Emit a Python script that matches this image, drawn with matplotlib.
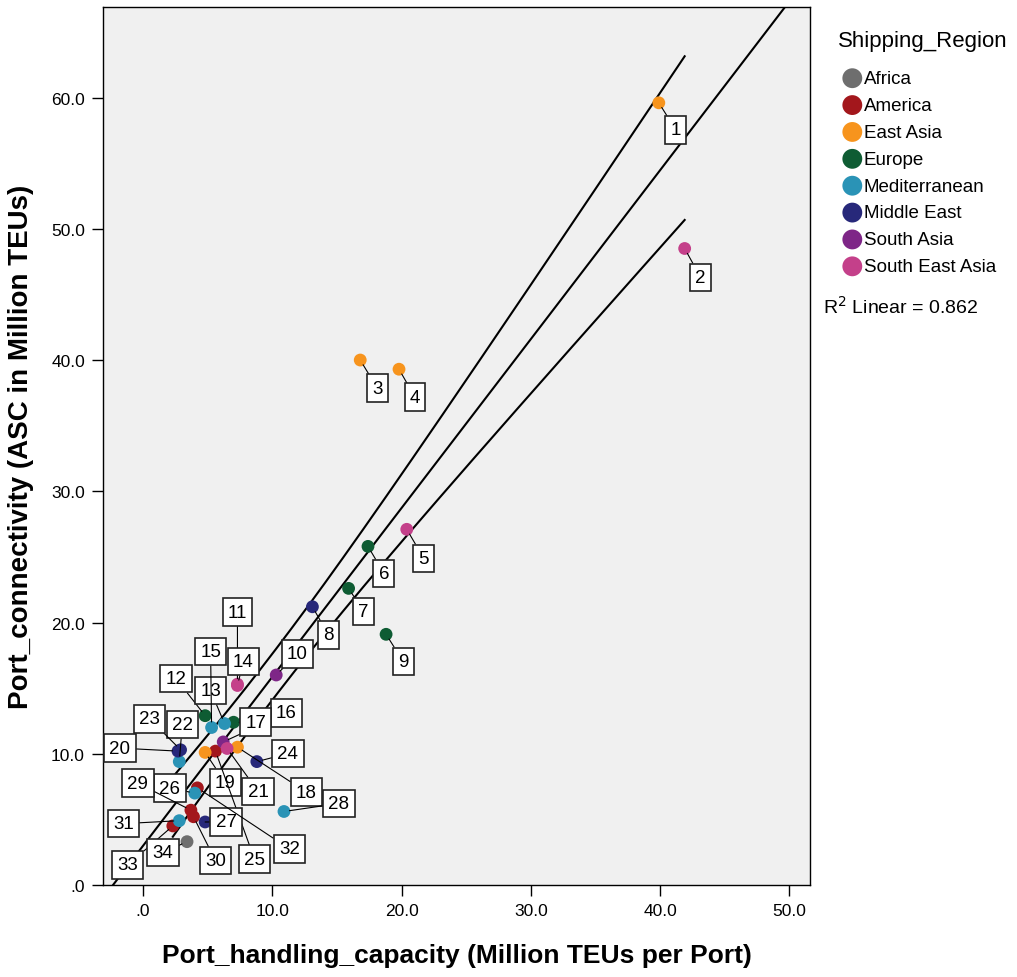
import matplotlib.pyplot as plt
import numpy as np

plt.rcParams['font.family'] = ['Liberation Sans', 'DejaVu Sans']

# port data: capacity (x), connectivity (y), region
port_id = list(range(1, 35))
capacity = [39.9, 41.9, 16.8, 19.8, 20.4, 17.4, 15.9, 13.1, 18.8, 10.3,
            7.3, 4.8, 6.3, 7.3, 5.3, 6.2, 7.0, 7.3, 4.8, 2.7,
            6.5, 2.8, 2.9, 8.8, 5.6, 4.0, 4.8, 10.9, 3.7, 3.9,
            2.8, 4.2, 2.3, 3.4]
connectivity = [59.6, 48.5, 40.0, 39.3, 27.1, 25.8, 22.6, 21.2, 19.1, 16.0,
                15.3, 12.9, 12.3, 15.2, 12.0, 10.9, 12.4, 10.5, 10.1, 10.2,
                10.4, 9.4, 10.3, 9.4, 10.2, 7.0, 4.8, 5.6, 5.7, 5.2,
                4.9, 7.4, 4.5, 3.3]
region = ['East Asia', 'South East Asia', 'East Asia', 'East Asia', 'South East Asia',
          'Europe', 'Europe', 'Middle East', 'Europe', 'South Asia',
          'South East Asia', 'Europe', 'Mediterranean', 'South East Asia', 'Mediterranean',
          'South Asia', 'Europe', 'East Asia', 'East Asia', 'Middle East',
          'South East Asia', 'Mediterranean', 'Middle East', 'Middle East', 'America',
          'Mediterranean', 'Middle East', 'Mediterranean', 'America', 'America',
          'Mediterranean', 'America', 'America', 'Africa']

regions = ['Africa', 'America', 'East Asia', 'Europe', 'Mediterranean',
           'Middle East', 'South Asia', 'South East Asia']
region_colors = ['#6e6e6e', '#a3171c', '#f7941d', '#0e5c33', '#2a93b6',
                 '#27287a', '#7e2687', '#c4408a']
R2_LINEAR = 0.862

# label box offsets (pixels) relative to each point
label_offset = {
    1: (17, -27), 2: (16, -29), 3: (17, -28), 4: (16, -28), 5: (17, -29),
    6: (16, -27), 7: (15, -23), 8: (16, -28), 9: (17, -27), 10: (21, 21),
    11: (0, 72), 12: (-29, 37), 13: (-14, 33), 14: (6, 24), 15: (-1, 76),
    16: (63, 29), 17: (22, 0), 18: (69, -45), 19: (20, -30), 20: (-58, 3),
    21: (31, -43), 22: (3, 37), 23: (-31, 31), 24: (31, 8), 25: (39, -108),
    26: (-25, 5), 27: (21, 0), 28: (55, 8), 29: (-53, 27), 30: (22, -44),
    31: (-56, -3), 32: (92, -61), 33: (-45, -39), 34: (-24, -11),
}

x = np.array(capacity)
y = np.array(connectivity)

fig = plt.figure(figsize=(10.17, 9.78), dpi=100)
ax = fig.add_axes([0.1013, 0.0941, 0.6952, 0.8977])
ax.set_facecolor('#f0f0f0')
ax.set_xlim(-3.1, 51.6)
ax.set_ylim(0, 66.9)

# linear fit with 95% mean confidence band
n = len(x)
slope, intercept = np.polyfit(x, y, 1)
resid = y - (slope * x + intercept)
s = np.sqrt(np.sum(resid ** 2) / (n - 2))
sxx = np.sum((x - x.mean()) ** 2)
t_crit = 2.037

xf = np.linspace(-3.1, 51.6, 200)
ax.plot(xf, slope * xf + intercept, color='black', lw=1.5, zorder=2)
xc = np.linspace(x.min(), x.max(), 200)
half = t_crit * s * np.sqrt(1 / n + (xc - x.mean()) ** 2 / sxx)
ax.plot(xc, slope * xc + intercept + half, color='black', lw=1.5, zorder=2)
ax.plot(xc, slope * xc + intercept - half, color='black', lw=1.5, zorder=2)

color_map = dict(zip(regions, region_colors))
for reg in regions:
    idx = [i for i, r in enumerate(region) if r == reg]
    ax.scatter(x[idx], y[idx], s=85, color=color_map[reg], edgecolors='none',
               label=reg, zorder=3)

for pid, px, py in zip(port_id, capacity, connectivity):
    ax.annotate(str(pid), xy=(px, py), xytext=label_offset[pid],
                textcoords='offset pixels', ha='center', va='center',
                fontsize=13.5, zorder=4,
                bbox=dict(boxstyle='square,pad=0.28', fc='white', ec='#222222', lw=1.2),
                arrowprops=dict(arrowstyle='-', color='black', lw=0.8,
                                shrinkA=0, shrinkB=4))

ticks = [0, 10, 20, 30, 40, 50]
ax.set_xticks(ticks)
ax.set_xticklabels([f'{v:.1f}'.lstrip('0') if v == 0 else f'{v:.1f}' for v in ticks])
yticks = [0, 10, 20, 30, 40, 50, 60]
ax.set_yticks(yticks)
ax.set_yticklabels([f'{v:.1f}'.lstrip('0') if v == 0 else f'{v:.1f}' for v in yticks])
ax.tick_params(direction='out', length=8, width=1, labelsize=12.5, pad=5)
for sp in ax.spines.values():
    sp.set_linewidth(1.0)

ax.set_xlabel('Port_handling_capacity (Million TEUs per Port)', fontsize=19,
              fontweight='bold', labelpad=18)
ax.set_ylabel('Port_connectivity (ASC in Million TEUs)', fontsize=20,
              fontweight='bold', labelpad=12)

fig.text(838 / 1017, 1 - 42 / 978, 'Shipping_Region', fontsize=16, va='center')
ax.legend(loc='upper left', bbox_to_anchor=(842 / 1017, 1 - 71 / 978),
          bbox_transform=fig.transFigure, frameon=False, fontsize=13.5,
          handletextpad=0.05, labelspacing=0.52, markerscale=1.55,
          borderaxespad=0, borderpad=0, handlelength=1.1)

fig.text(823 / 1017, 1 - 307 / 978, f'R$^2$ Linear = {R2_LINEAR}', fontsize=14,
         va='center')

fig.savefig('out.png', dpi=100)
